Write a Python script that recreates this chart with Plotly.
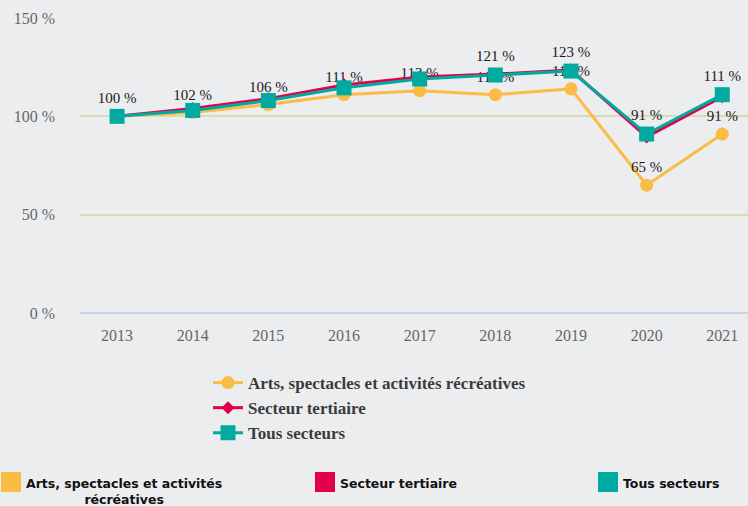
import plotly.graph_objects as go

years = ["2013", "2014", "2015", "2016", "2017", "2018", "2019", "2020", "2021"]
arts = [100, 102, 106, 111, 113, 111, 114, 65, 91]
tertiaire = [100, 104, 109, 116, 120, 121.5, 123.5, 89.5, 110]
tous = [100, 103, 108, 114.5, 119, 121, 123, 91, 111]
arts_labels = ["100 %", "102 %", "106 %", "111 %", "113 %", "111 %", "114 %", "65 %", "91 %"]
tous_labels = ["", "", "", "", "", "121 %", "123 %", "91 %", "111 %"]
y_ticks = [0, 50, 100, 150]
y_tick_text = ["0 %", "50 %", "100 %", "150 %"]
series_names = ["Arts, spectacles et activités récréatives", "Secteur tertiaire", "Tous secteurs"]
colors = ["#FBBC45", "#E2004C", "#00AAA0"]

serif = "Liberation Serif, Times New Roman, serif"
label_font = dict(family=serif, size=15, color="#1a1a1a")

fig = go.Figure()
fig.add_trace(go.Scatter(
    x=years, y=arts, name=series_names[0], mode="lines+markers+text",
    line=dict(color=colors[0], width=3),
    marker=dict(symbol="circle", size=13, color=colors[0]),
    text=arts_labels, textposition="top center", textfont=label_font,
    legendgroup="a",
))
fig.add_trace(go.Scatter(
    x=years, y=tertiaire, name=series_names[1], mode="lines+markers",
    line=dict(color=colors[1], width=3),
    marker=dict(symbol="diamond", size=10, color=colors[1]),
    legendgroup="b",
))
fig.add_trace(go.Scatter(
    x=years, y=tous, name=series_names[2], mode="lines+markers+text",
    line=dict(color=colors[2], width=3),
    marker=dict(symbol="square", size=15, color=colors[2]),
    text=tous_labels, textposition="top center", textfont=label_font,
    legendgroup="c",
))

# bottom HTML-like legend
bottom_items = [
    ("Arts, spectacles et activités<br>récréatives", 1, 24),
    ("Secteur tertiaire", 315, 338),
    ("Tous secteurs", 598, 621),
]
W, H = 748, 506
for (txt, sx, tx), c in zip(bottom_items, colors):
    fig.add_shape(type="rect", xref="paper", yref="paper",
                  x0=(sx - 80) / 668, x1=(sx + 20 - 80) / 668,
                  y0=(313 - 492) / 295, y1=(313 - 472) / 295,
                  fillcolor=c, line=dict(width=0), layer="above")
    fig.add_annotation(xref="paper", yref="paper", x=(tx - 80) / 668, y=(313 - 474) / 295,
                       xanchor="left", yanchor="top", showarrow=False, align="center",
                       text="<b>" + txt + "</b>",
                       font=dict(family="DejaVu Sans", size=12.5, color="#111"))

fig.update_layout(
    width=W, height=H,
    margin=dict(l=80, r=0, t=18, b=193),
    paper_bgcolor="#ECEDEF", plot_bgcolor="#ECEDEF",
    showlegend=True,
    legend=dict(x=(208 - 80) / 668, y=(313 - 365) / 295, xanchor="left", yanchor="top",
                font=dict(family=serif, size=17, color="#3a3a3a", weight="bold"),
                bgcolor="rgba(0,0,0,0)", tracegroupgap=0, traceorder="grouped"),
    xaxis=dict(type="category", range=[-0.49, 8.34], showgrid=False, zeroline=False,
               showline=False, ticks="", ticklabelstandoff=11,
               tickfont=dict(family=serif, size=16, color="#666")),
    yaxis=dict(range=[0, 150], tickvals=y_ticks, ticktext=y_tick_text,
               showgrid=True, gridcolor="#D6DCB5", gridwidth=1.5,
               zeroline=True, zerolinecolor="#C8D2E8", zerolinewidth=1.5,
               showline=False, ticks="", ticklabelstandoff=24,
               tickfont=dict(family=serif, size=16, color="#666")),
)

fig.write_html("out.html", config={"displayModeBar": False})

# remove default body margin so the figure sits at the page's top-left corner
with open("out.html", encoding="utf-8") as f:
    html = f.read()
html = html.replace("<head>", "<head><style>html,body{margin:0;padding:0;overflow:hidden;}</style>", 1)
with open("out.html", "w", encoding="utf-8") as f:
    f.write(html)
